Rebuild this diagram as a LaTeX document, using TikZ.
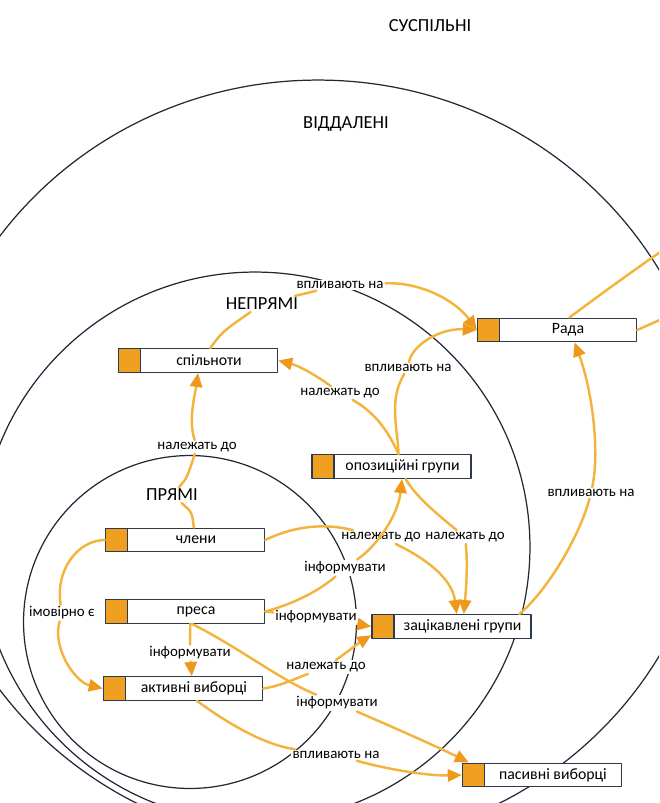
\documentclass[tikz,border=0pt]{standalone}
\usepackage{fontspec}
\setmainfont{Carlito}
\usetikzlibrary{arrows.meta}

\definecolor{ringline}{RGB}{35,40,55}
\definecolor{boxline}{RGB}{45,58,75}
\definecolor{boxorange}{RGB}{240,160,32}
\definecolor{flowgold}{RGB}{243,180,62}
\definecolor{tipgold}{RGB}{238,152,28}

\begin{document}
\begin{tikzpicture}[x=0.02cm, y=-0.02cm, line join=round, line cap=round,
    ring/.style={draw=ringline, line width=0.7pt},
    zone/.style={font=\fontsize{10.5}{12}\selectfont, inner sep=1pt},
    actor/.style={draw=boxline, line width=0.8pt, fill=white,
        minimum width=3.18cm, minimum height=0.47cm, inner sep=0pt,
        font=\fontsize{9}{10}\selectfont,
        execute at begin node={\hspace*{0.44cm}},
        path picture={
            \fill[boxorange] (path picture bounding box.south west) rectangle ([xshift=0.44cm]path picture bounding box.north west);
            \draw[boxline, line width=0.8pt] ([xshift=0.44cm]path picture bounding box.south west) -- ([xshift=0.44cm]path picture bounding box.north west);
        }},
    rel/.style={font=\fontsize{8.5}{10}\selectfont, fill=white, inner sep=1pt},
    flow/.style={draw=flowgold, line width=1.4pt},
    flowarr/.style={flow, -{Triangle[length=8pt, width=7pt, color=tipgold]}}]

    \useasboundingbox (0,0) rectangle (659,803);
    \clip (0,0) rectangle (659,803);

    % Кола
    \draw[ring] (318,463) ellipse [x radius=7.9cm, y radius=7.66cm];
    \draw[ring] (255,547) circle [radius=5.5cm];
    \draw[ring] (190,622) circle [radius=3.33cm];

    % Зони
    \node[zone] (susp)   at (430,26)  {СУСПІЛЬНІ};
    \node[zone] (viddal) at (346,124) {ВІДДАЛЕНІ};
    \node[zone] (nepr)   at (262,304) {НЕПРЯМІ};
    \node[zone] (pryami) at (172,495) {ПРЯМІ};

    % Учасники
    \node[actor] (rada)   at (557,330)     {Рада};
    \node[actor] (spil)   at (198,360.5)   {спільноти};
    \node[actor] (opoz)   at (391.5,466.5) {опозиційні групи};
    \node[actor] (chleny) at (185,540)     {члени};
    \node[actor] (presa)  at (185,611.5)   {преса};
    \node[actor] (zats)   at (451.5,626.5) {зацікавлені групи};
    \node[actor] (aktyv)  at (183,688.5)   {активні виборці};
    \node[actor] (pasyv)  at (542,775)     {пасивні виборці};

    % Підписи зв'язків
    \node[rel] (spilRada) at (340,285) {впливають на};
    \node[rel] (opozRada) at (408,368) {впливають на};
    \node[rel] (opozSpil) at (340,393) {належать до};
    \node[rel] (chlSpil)  at (197,447) {належать до};
    \node[rel] (zatsRada) at (591,493) {впливають на};
    \node[rel] (chlZats)  at (381,537) {належать до};
    \node[rel] (opozZats) at (465,537) {належать до};
    \node[rel] (presOpoz) at (345,568) {інформувати};
    \node[rel] (presZats) at (316,617) {інформувати};
    \node[rel] (chlAkt)   at (62,613)  {імовірно є};
    \node[rel] (presAkt)  at (190,653) {інформувати};
    \node[rel] (aktZats)  at (326,667) {належать до};
    \node[rel] (presPas)  at (337,703) {інформувати};
    \node[rel] (aktPas)   at (336,755) {впливають на};

    % спільноти -> Рада
    \draw[flow] ([xshift=7pt]spil.north) .. controls (222,332) .. (nepr);
    \draw[flow] (nepr) -- (spilRada);
    \draw[flowarr] (spilRada) .. controls (420,282) and (455,300) .. (rada.west);

    % опозиційні групи -> Рада, спільноти
    \draw[flow] ([xshift=4pt]opoz.north) .. controls (398,430) and (388,400) .. (opozRada);
    \draw[flowarr] (opozRada) .. controls (412,345) and (440,328) .. (rada.west);
    \draw[flow] ([xshift=4pt]opoz.north) .. controls (392,440) and (380,415) .. (opozSpil);
    \draw[flowarr] (opozSpil) .. controls (320,378) and (300,366) .. (spil.east);

    % члени -> спільноти
    \draw[flow] ([xshift=5pt]chleny.north) .. controls (192,512) .. (pryami);
    \draw[flow] (pryami) .. controls (187,478) .. (chlSpil);
    \draw[flowarr] (chlSpil) .. controls (188,420) and (195,395) .. (spil.south);

    % члени, опозиційні групи -> зацікавлені групи
    \draw[flow] (chleny.east) .. controls (290,528) and (320,522) .. (chlZats);
    \draw[flowarr] (chlZats) .. controls (425,558) and (452,578) .. ([xshift=3pt]zats.north);
    \draw[flow] ([xshift=8pt]opoz.south) .. controls (415,495) and (432,510) .. (opozZats);
    \draw[flowarr] (opozZats) .. controls (468,565) and (466,590) .. ([xshift=7pt]zats.north);

    % преса -> опозиційні групи, зацікавлені групи
    \draw[flow] (presa.east) .. controls (290,605) and (318,592) .. (presOpoz);
    \draw[flowarr] (presOpoz) .. controls (378,545) and (398,515) .. ([xshift=6pt]opoz.south);
    \draw[flow] (presa.east) -- (presZats);
    \draw[flowarr] (presZats) -- (zats.west);

    % активні виборці -> зацікавлені групи
    \draw[flow] (aktyv.east) .. controls (280,686) and (292,680) .. (aktZats);
    \draw[flowarr] (aktZats) .. controls (350,650) and (360,642) .. ([yshift=-5pt]zats.west);

    % преса -> пасивні виборці, активні виборці
    \draw[flow] ([xshift=4pt]presa.south) .. controls (240,648) and (280,680) .. (presPas);
    \draw[flowarr] (presPas) .. controls (395,728) and (440,748) .. ([xshift=4pt]pasyv.north west);
    \draw[flow] ([xshift=3pt]presa.south) -- (presAkt);
    \draw[flowarr] (presAkt) -- ([xshift=5pt]aktyv.north);

    % члени -> активні виборці
    \draw[flow] (chleny.west) .. controls (78,540) and (55,570) .. (chlAkt);
    \draw[flowarr] (chlAkt) .. controls (52,648) and (75,682) .. (aktyv.west);

    % зацікавлені групи -> Рада
    \draw[flow] ([xshift=-7pt]zats.north east) .. controls (548,590) and (580,535) .. (zatsRada);
    \draw[flowarr] (zatsRada) .. controls (600,450) and (592,390) .. ([xshift=10pt]rada.south);

    % активні виборці -> пасивні виборці
    \draw[flow] ([xshift=8pt]aktyv.south) .. controls (230,725) and (265,745) .. (aktPas);
    \draw[flowarr] (aktPas) .. controls (390,770) and (430,776) .. (pasyv.west);

    % Рада -> за межі
    \coordinate (suspA) at (700,225);
    \coordinate (suspB) at (700,302);
    \draw[flow] ([xshift=7pt]rada.north) .. controls (600,295) and (640,265) .. (suspA);
    \draw[flow] (rada.east) -- (suspB);
\end{tikzpicture}
\end{document}
